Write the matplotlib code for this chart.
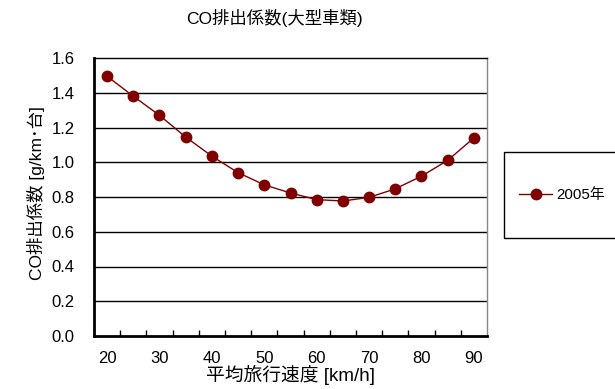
import matplotlib
matplotlib.use("Agg")
import matplotlib.pyplot as plt
from matplotlib.patches import Rectangle

plt.rcParams['font.family'] = ['Liberation Sans', 'Noto Sans CJK JP', 'DejaVu Sans']

speeds = [20, 25, 30, 35, 40, 45, 50, 55, 60, 65, 70, 75, 80, 85, 90]
co_2005 = [1.495, 1.38, 1.27, 1.145, 1.035, 0.94, 0.87, 0.823, 0.785, 0.777, 0.798, 0.847, 0.92, 1.011, 1.14]
y_ticks = [0.0, 0.2, 0.4, 0.6, 0.8, 1.0, 1.2, 1.4, 1.6]
title = "CO排出係数(大型車類)"
xlabel = "平均旅行速度 [km/h]"
ylabel = "CO排出係数 [g/km･台]"
series_name = "2005年"

W, H = 615, 389
fig = plt.figure(figsize=(W / 100, H / 100), dpi=100)
ax = fig.add_axes([94 / W, (H - 336) / H, 393 / W, 278 / H])

pos = list(range(len(speeds)))
line, = ax.plot(pos, co_2005, color='#800000', lw=1.0, marker='o',
                markersize=7.5, markerfacecolor='#800000', markeredgecolor='#800000')

ax.set_xlim(-0.5, len(speeds) - 0.5)
ax.set_ylim(0, 1.6)
ax.set_yticks(y_ticks)
ax.set_yticklabels([f"{v:.1f}" for v in y_ticks], fontsize=12)
ax.set_xticks([p for p, s in zip(pos, speeds) if s % 10 == 0])
ax.set_xticklabels([str(s) for s in speeds if s % 10 == 0], fontsize=12)
ax.tick_params(axis='x', which='major', length=0, pad=11)
ax.set_xticks([p + 0.5 for p in pos[:-1]], minor=True)
ax.tick_params(axis='x', which='minor', direction='in', length=4, width=1, color='black')
ax.tick_params(axis='y', length=0, pad=14)

for v in y_ticks[1:-1]:
    ax.axhline(v, color='black', lw=1.0, zorder=0)
ax.spines['top'].set_color('black')
ax.spines['top'].set_linewidth(1.0)
ax.spines['right'].set_color('#888888')
ax.spines['right'].set_linewidth(1.0)
ax.spines['left'].set_linewidth(2.0)
ax.spines['bottom'].set_linewidth(2.0)

ax.set_xlabel(xlabel, fontsize=13.5, labelpad=-1)
ax.set_ylabel(ylabel, fontsize=12.5)
ax.yaxis.set_label_coords(-0.125, 0.515)
fig.text(274 / W, 1 - 18 / H, title, fontsize=12.5, ha='center', va='center')

fig.patches.append(Rectangle((504 / W, (H - 238) / H), 130 / W, 86 / H,
                             transform=fig.transFigure, fill=False,
                             edgecolor='black', lw=1.0))
fig.legend([line], [series_name], loc='center left',
           bbox_to_anchor=(519 / W, (H - 195) / H), frameon=False,
           fontsize=10.8, handlelength=2.2, handletextpad=0.3,
           borderaxespad=0, borderpad=0)

fig.savefig("out.png", dpi=100)
